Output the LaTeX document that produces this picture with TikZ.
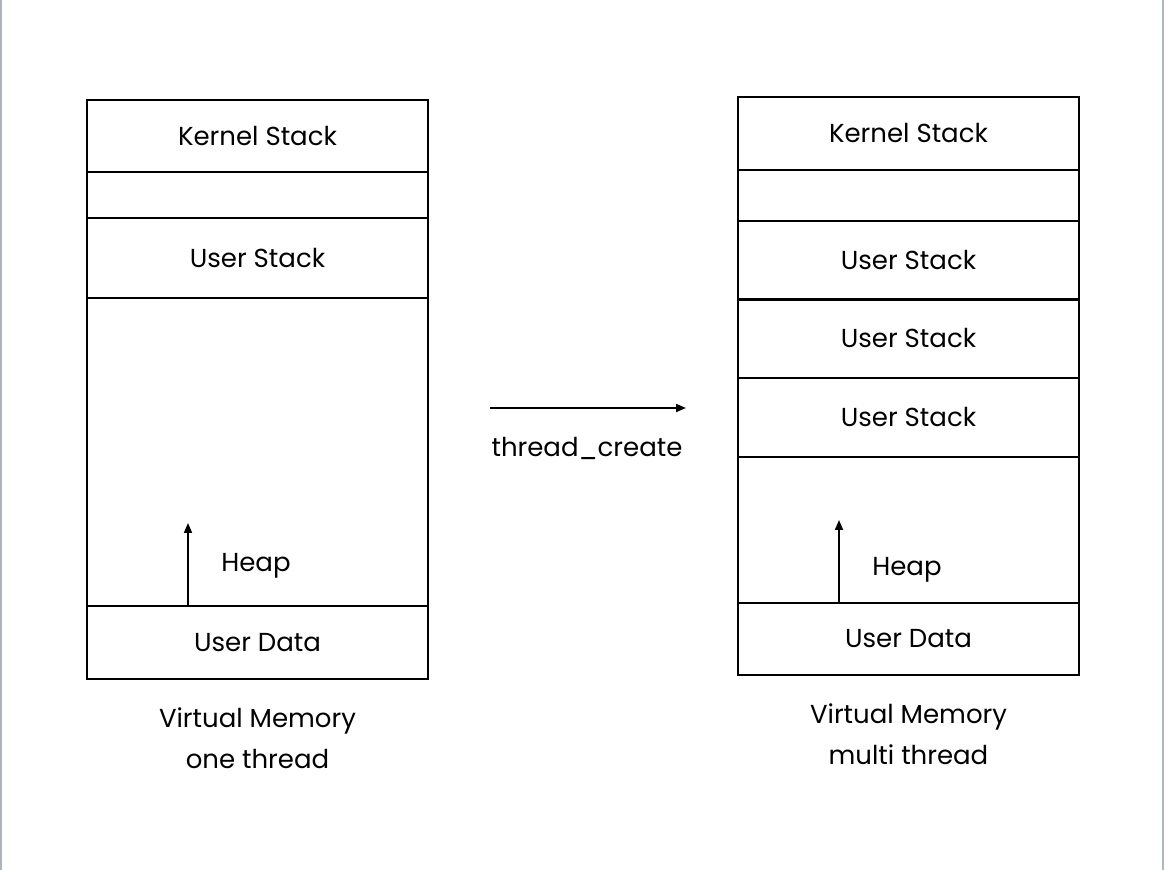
\documentclass[tikz,border=0pt]{standalone}
\usepackage{fontspec}
\setmainfont{Poppins}
\usetikzlibrary{arrows.meta,positioning}

\tikzset{
  seg/.style={draw, line width=1pt, minimum width=170.5pt, anchor=north west,
    inner sep=0pt, font=\fontsize{13}{15}\selectfont},
  lbl/.style={align=center, font=\fontsize{13}{20.3}\selectfont},
  uparrow/.style={-{Triangle[length=5pt,width=4pt]}, line width=0.9pt},
}

\begin{document}
\begin{tikzpicture}[x=0.5pt,y=-0.5pt]
    \useasboundingbox (0,0) rectangle (1164,870);
    \draw[line width=1pt, color={rgb,255:red,176;green,180;blue,188}] (1,0) -- (1,870) (1163,0) -- (1163,870);
    % one thread
    \node[seg, minimum height=36pt] (k1) at (86,99) {Kernel Stack};
    \node[seg, minimum height=23pt] (g1) at (86,171) {};
    \node[seg, minimum height=40pt] (s1) at (86,217) {User Stack};
    \node[seg, minimum height=154pt] (h1) at (86,297) {};
    \node[seg, minimum height=36.5pt] (d1) at (86,605) {User Data};
    \coordinate (t1) at (188,523);
    \draw[uparrow] (d1.north -| t1) -- (t1);
    \node[lbl] (hl1) at (256,566) {Heap};
    \node[lbl, below=10.5pt of d1] (v1) {Virtual Memory\\one thread};
    % create
    \coordinate (a1) at (490,408);
    \coordinate (a2) at (686,408);
    \draw[uparrow] (a1) -- (a2);
    \node[lbl] (tc) at (587,448) {thread\_create};
    % multi thread
    \node[seg, minimum height=36.5pt] (k2) at (737,96) {Kernel Stack};
    \node[seg, minimum height=25.5pt] (g2) at (737,169) {};
    \foreach \i/\y in {1/220,2/298,3/377}
        \node[seg, minimum height=39.5pt] (s2\i) at (737,\y) {User Stack};
    \node[seg, minimum height=73pt] (h2) at (737,456) {};
    \node[seg, minimum height=36pt] (d2) at (737,602) {User Data};
    \coordinate (t2) at (839,520);
    \draw[uparrow] (d2.north -| t2) -- (t2);
    \node[lbl] (hl2) at (907,570) {Heap};
    \node[lbl, below=10.5pt of d2] (v2) {Virtual Memory\\multi thread};
\end{tikzpicture}
\end{document}
